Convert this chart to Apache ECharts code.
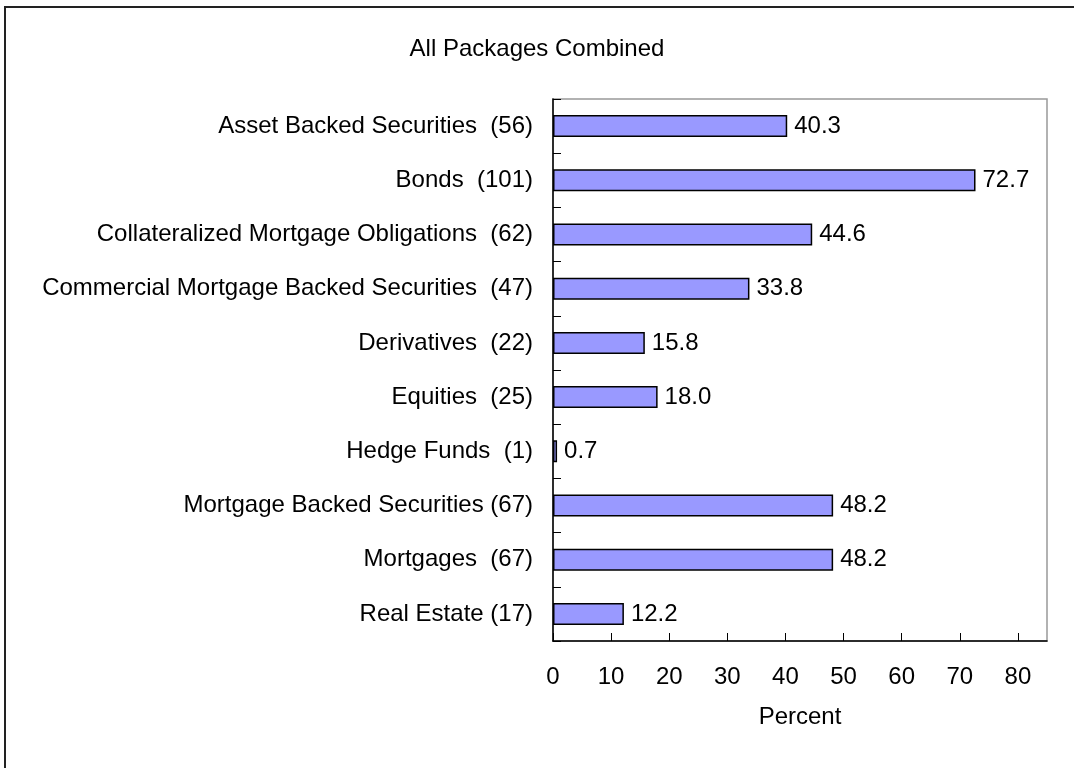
<!DOCTYPE html>
<html>
<head>
    <meta charset="utf-8">
    <title>ECharts</title>
    <script src="https://cdn.jsdelivr.net/npm/echarts@6/dist/echarts.min.js"></script>
    <style>
        html, body { margin: 0; padding: 0; background: #fff; }
    </style>
</head>
<body>
    <div id="main" style="width: 1074px;height:768px;"></div>
    <script type="text/javascript">
        var categories = [
            'Asset Backed Securities  (56)',
            'Bonds  (101)',
            'Collateralized Mortgage Obligations  (62)',
            'Commercial Mortgage Backed Securities  (47)',
            'Derivatives  (22)',
            'Equities  (25)',
            'Hedge Funds  (1)',
            'Mortgage Backed Securities (67)',
            'Mortgages  (67)',
            'Real Estate (17)'
        ]
        var percents = [40.3, 72.7, 44.6, 33.8, 15.8, 18.0, 0.7, 48.2, 48.2, 12.2]
        var xTicks = [0, 10, 20, 30, 40, 50, 60, 70, 80]

        var font = 'Arial, "Liberation Sans", sans-serif'
        var myChart = echarts.init(document.getElementById('main'))
        var option = {
            animation: false,
            backgroundColor: '#fff',
            title: {
                text: 'All Packages Combined',
                left: 'center',
                top: 32,
                textStyle: { fontFamily: font, fontSize: 24, fontWeight: 'normal', color: '#000' }
            },
            graphic: [{
                // outer chart frame, only top and left edges fall inside the picture
                type: 'rect',
                shape: { x: 5, y: 7, width: 1200, height: 900 },
                style: { fill: 'none', stroke: '#222', lineWidth: 2 },
                silent: true
            }],
            grid: {
                left: 553,
                right: 27,
                top: 99,
                bottom: 127,
                show: true,
                borderColor: '#999',
                borderWidth: 1.5,
                backgroundColor: '#fff'
            },
            xAxis: {
                type: 'value',
                min: 0,
                max: 85,
                interval: 10,
                name: 'Percent',
                nameLocation: 'middle',
                nameGap: 64,
                nameTextStyle: { fontFamily: font, fontSize: 24, color: '#000' },
                axisLine: { show: true, lineStyle: { color: '#000', width: 1.5 } },
                axisTick: { show: true, inside: true, length: 8, customValues: xTicks, lineStyle: { color: '#000' } },
                axisLabel: { fontFamily: font, fontSize: 24, color: '#000', margin: 24, customValues: xTicks },
                splitLine: { show: false }
            },
            yAxis: {
                type: 'category',
                data: categories,
                inverse: true,
                axisLine: { show: true, lineStyle: { color: '#000', width: 1.5 } },
                axisTick: { show: true, inside: true, length: 8, lineStyle: { color: '#000' } },
                axisLabel: { fontFamily: font, fontSize: 24, color: '#000', margin: 20 },
                splitLine: { show: false }
            },
            series: [{
                type: 'bar',
                data: percents,
                barWidth: 22,
                itemStyle: { color: '#9999ff', borderColor: '#000', borderWidth: 1.5 },
                label: {
                    show: true,
                    position: 'right',
                    distance: 7,
                    fontFamily: font,
                    fontSize: 24,
                    color: '#000',
                    formatter: function (p) { return p.value.toFixed(1) }
                }
            }]
        };
        myChart.setOption(option);
    </script>
</body>
</html>
